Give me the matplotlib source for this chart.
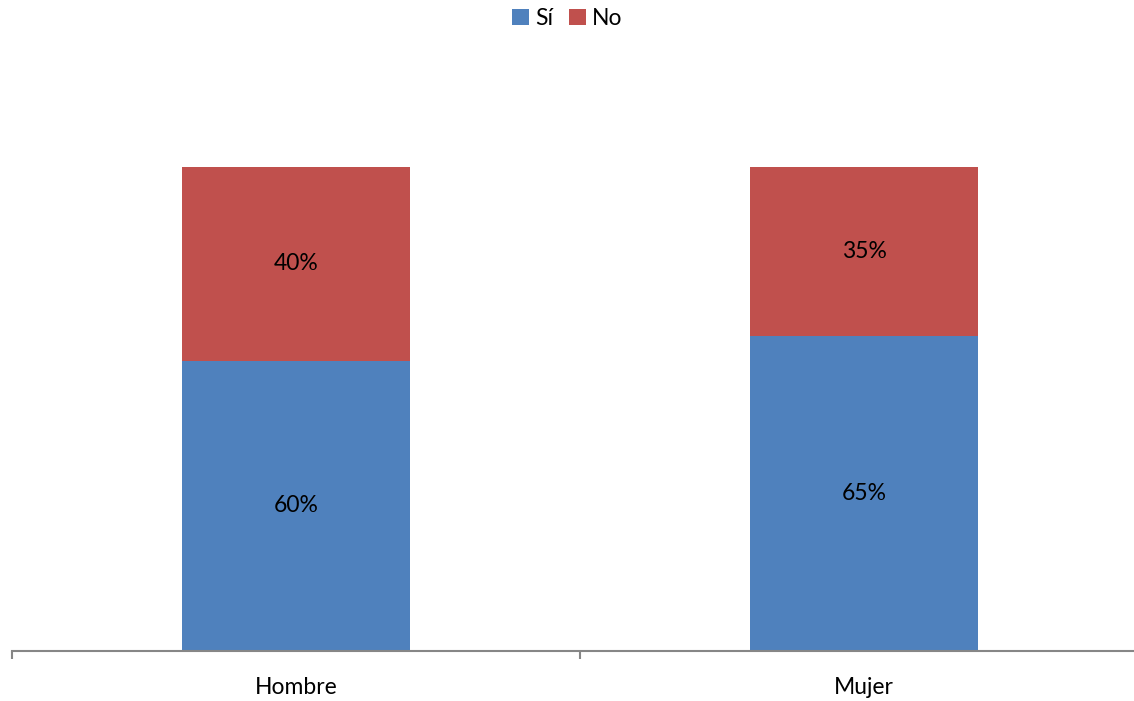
import numpy as np
from matplotlib import pyplot as plt

categorias = ["Hombre", "Mujer"]
si = [0.60, 0.65]
no = [0.40, 0.35]

plt.rcParams['font.family'] = ['Lato', 'DejaVu Sans']
fs = 16.5

fig = plt.figure(figsize=(11.34, 7.01), dpi=100)
ax = fig.add_axes([12/1134, 50/701, 1136/1134, 484/701])

x = np.arange(len(categorias))
b1 = ax.bar(x, si, width=0.4, color="#4F81BD", label="Sí")
b2 = ax.bar(x, no, width=0.4, bottom=si, color="#C0504D", label="No")

for i in range(len(categorias)):
    ax.text(x[i], si[i] / 2, f"{si[i]*100:.0f}%", ha="center", va="center", fontsize=fs)
    ax.text(x[i], si[i] + no[i] / 2, f"{no[i]*100:.0f}%", ha="center", va="center", fontsize=fs)

ax.set_xlim(-0.5, 1.5)
ax.set_ylim(0, 1)
for s in ["top", "right", "left"]:
    ax.spines[s].set_visible(False)
ax.spines["bottom"].set_color("#868686")
ax.spines["bottom"].set_linewidth(1.5)
ax.set_yticks([])
ax.set_xticks(x)
ax.set_xticklabels(categorias, fontsize=fs)
ax.tick_params(axis="x", which="major", length=0, pad=19)
ax.set_xticks([-0.5, 0.5, 1.5], minor=True)
ax.tick_params(axis="x", which="minor", length=6, width=1.5, color="#868686")

fig.legend(handles=[b1, b2], loc="upper center", bbox_to_anchor=(0.5, 1.018), ncol=2,
           frameon=False, fontsize=fs, handlelength=0.75, handleheight=0.75,
           handletextpad=0.25, columnspacing=0.7)

plt.savefig("out.png", dpi=100)
